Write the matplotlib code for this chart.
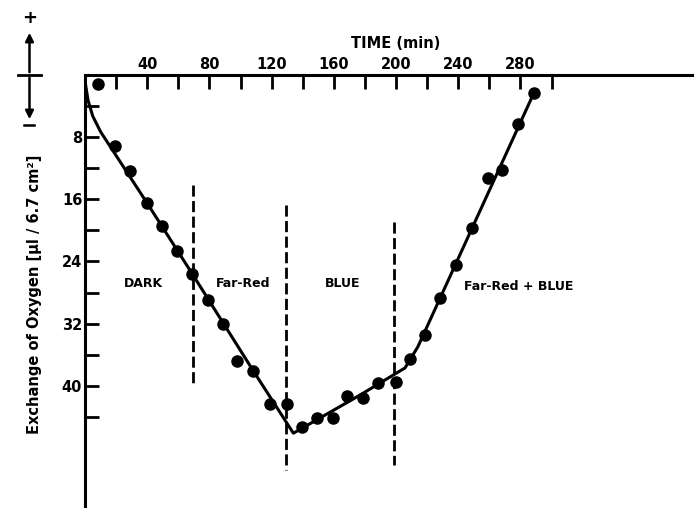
"""Oxygen exchange under dark / far-red / blue light, redrawn from a scanned figure."""

import matplotlib

matplotlib.use("Agg")

from matplotlib import pyplot as plt
from matplotlib.lines import Line2D

# measured points (time in min, oxygen exchange in ul / 6.7 cm2, downward = uptake)
time_min = [8.5, 19.3, 28.9, 39.7, 49.3, 59.0, 69.0, 79.3, 88.5, 97.5, 108.3, 119.0,
            129.7, 139.3, 149.0, 159.3, 168.7, 179.0, 188.6, 200.0, 209.0, 218.6,
            228.3, 238.6, 248.7, 259.4, 268.0, 278.6, 288.7]
oxygen = [1.2, 9.2, 12.4, 16.5, 19.4, 22.7, 25.6, 28.9, 32.0, 36.8, 38.1, 42.3,
          42.3, 45.3, 44.2, 44.2, 41.3, 41.6, 39.7, 39.5, 36.6, 33.5,
          28.7, 24.5, 19.7, 13.3, 12.2, 6.3, 2.3]

# hand-fitted curve through the points
fit_t = [0, 2, 5, 10, 40, 69, 108.3, 134, 176.8, 205.8, 214, 288.7]
fit_v = [0.8, 3.3, 5.3, 7.3, 16.5, 25.6, 38.1, 46.1, 41.2, 37.7, 35.0, 2.3]

# light switch markers
switch_t = [69.5, 129.3, 199.0]
switch_top = [14.2, 16.7, 18.9]
switch_bottom = [40.0, 50.8, 50.2]

phase_labels = ["DARK", "Far-Red", "BLUE", "Far-Red + BLUE"]
phase_t = [37.3, 101.5, 165.5, 279.0]
phase_v = [26.8, 26.8, 26.8, 27.2]

x_ticks = list(range(20, 320, 20))
y_ticks = list(range(4, 48, 4))

W, H = 694, 508
FONT = dict(family="DejaVu Sans", weight="bold")


def px(x, y):
    """Image pixel (from top-left) to figure fraction."""
    return x / W, 1 - y / H


fig = plt.figure(figsize=(W / 100, H / 100), dpi=100)
ax = fig.add_axes([85 / W, 0, 1 - 85 / W, 1 - 75 / H])

ax.plot(fit_t, fit_v, color="black", linewidth=2.2, solid_capstyle="round", zorder=2)
ax.plot(time_min, oxygen, "o", color="black", markersize=8, zorder=3)
for t, top, bottom in zip(switch_t, switch_top, switch_bottom):
    ax.plot([t, t], [top, bottom], color="black", linewidth=2.0,
            linestyle=(0, (4, 1.6)), zorder=1)
for label, t, v in zip(phase_labels, phase_t, phase_v):
    ax.text(t, v, label, ha="center", va="center", fontsize=9, **FONT)

ax.set_xlim(0, (W - 85) / 1.555)
ax.set_ylim((H - 75) / 7.77, 0)

for side in ("right", "bottom"):
    ax.spines[side].set_visible(False)
for side in ("top", "left"):
    ax.spines[side].set_linewidth(2.2)

ax.xaxis.tick_top()
ax.set_xticks(x_ticks)
ax.set_xticklabels([str(t) if t % 40 == 0 and t <= 280 else "" for t in x_ticks])
ax.set_yticks(y_ticks)
ax.set_yticklabels([str(v) if v % 8 == 0 else "" for v in y_ticks])
ax.tick_params(direction="in", length=10, width=2.0, pad=2, labelsize=10.5)
for lab in ax.get_xticklabels() + ax.get_yticklabels():
    lab.set_fontweight("bold")

fig.text(*px(396, 43), "TIME (min)", ha="center", va="center", fontsize=10.5, **FONT)
fig.text(*px(35, 294), "Exchange of Oxygen [μl / 6.7 cm²]", rotation=90,
         ha="center", va="center", fontsize=10.5, **FONT)

# sign key: + is up, - is down
fig.text(*px(29.5, 18), "+", ha="center", va="center", fontsize=13, **FONT)
fig.add_artist(Line2D(*zip(px(18, 75), px(41, 75)), transform=fig.transFigure,
                      color="black", linewidth=2.0))
fig.add_artist(Line2D(*zip(px(24, 125), px(34, 125)), transform=fig.transFigure,
                      color="black", linewidth=1.8))
arrow = dict(arrowstyle="-|>", color="black", linewidth=1.8, mutation_scale=12)
fig.add_artist(plt.Annotation("", xy=px(29.5, 30), xytext=px(29.5, 75),
                              xycoords="figure fraction", arrowprops=arrow))
fig.add_artist(plt.Annotation("", xy=px(29.5, 122), xytext=px(29.5, 75),
                              xycoords="figure fraction", arrowprops=arrow))

fig.savefig("out.png", dpi=100)
